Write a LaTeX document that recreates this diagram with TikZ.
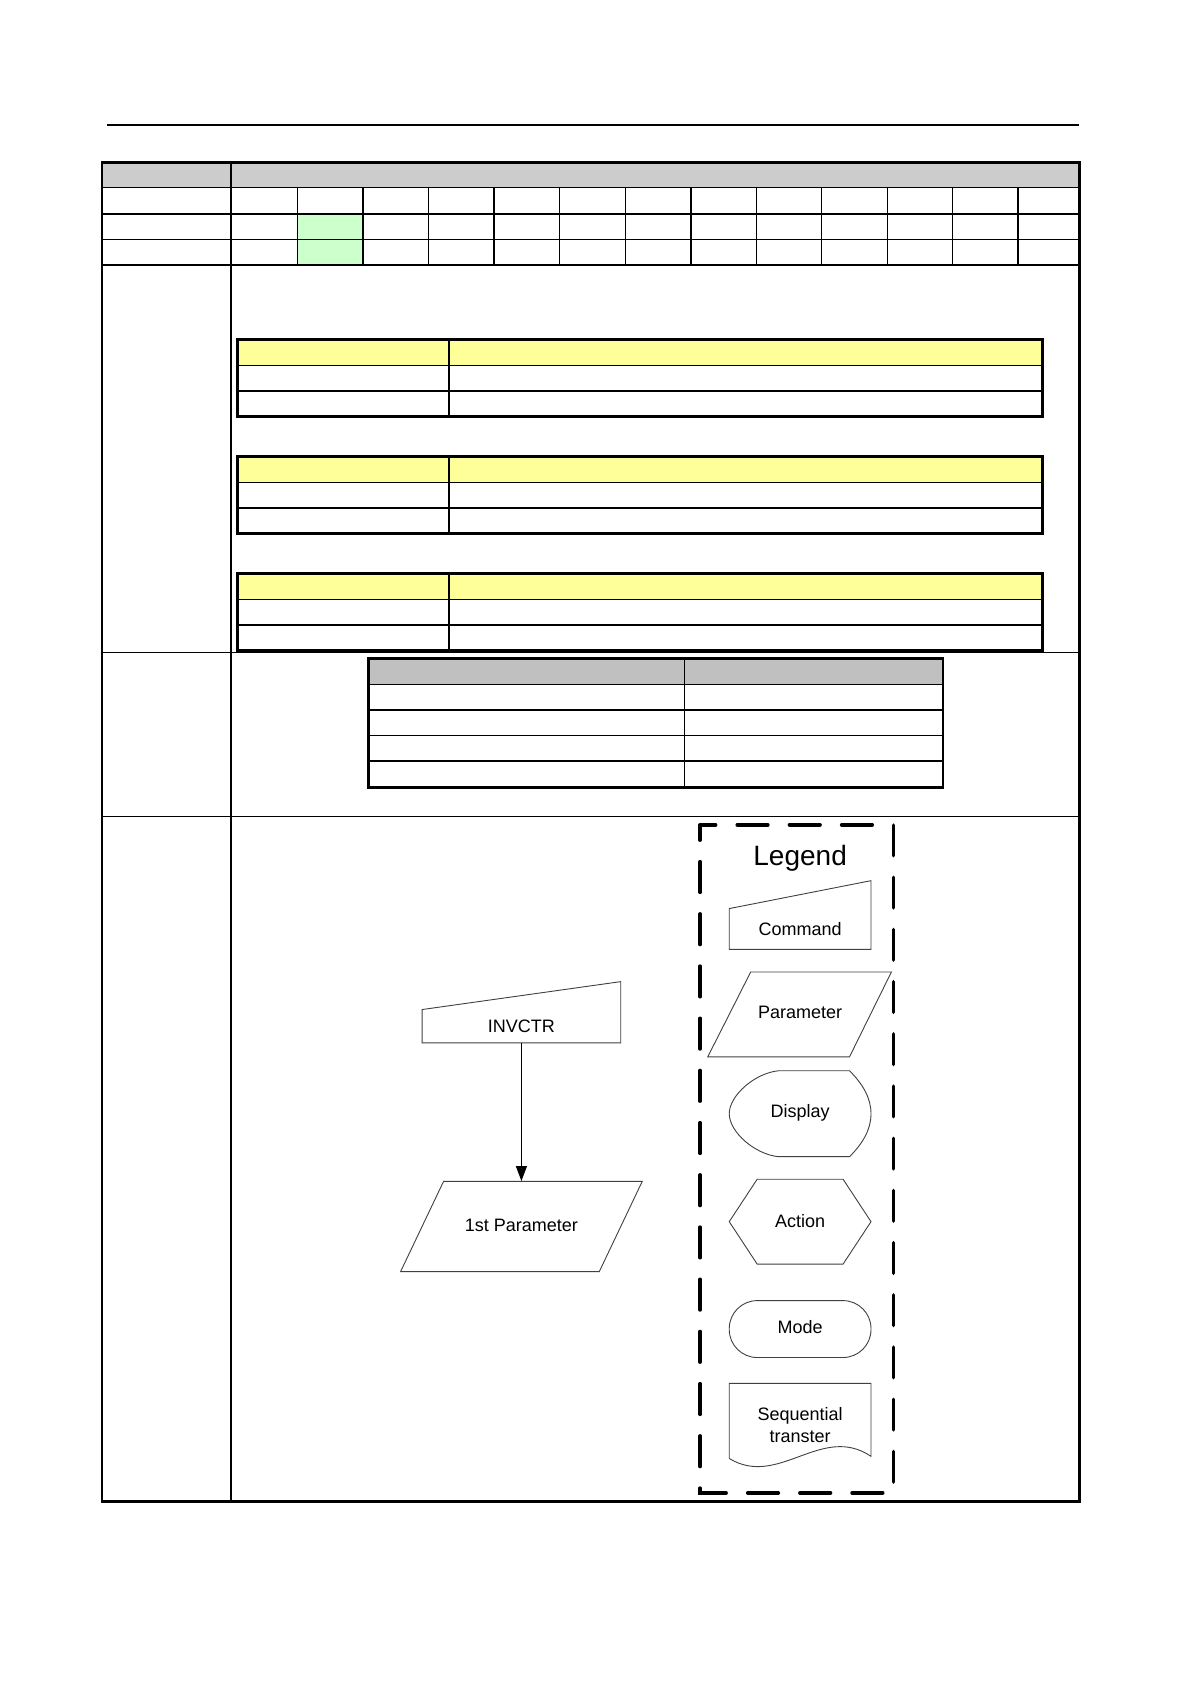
\documentclass[tikz,border=0pt]{standalone}
\usepackage{fontspec}
\setmainfont{Liberation Sans}
\usepackage{tikz}
\usetikzlibrary{arrows.meta}
\definecolor{ink}{HTML}{000000}
\definecolor{headgrey}{HTML}{CCCCCC}
\definecolor{colgrey}{HTML}{C0C0C0}
\definecolor{hilite}{HTML}{CCFFCC}
\definecolor{paleyellow}{HTML}{FFFF99}
\definecolor{outline}{HTML}{404040}
\tikzset{frameline/.style={draw=ink,line width=1.4pt},boldrule/.style={draw=ink,line width=1pt},hairline/.style={draw=ink,line width=.5pt},flowshape/.style={draw=outline,line width=.45pt,fill=white},shapetext/.style={font=\fontsize{9}{11.3}\selectfont,inner sep=0pt,align=center},legendbox/.style={draw=ink,line width=1.8pt,line cap=round,dash pattern=on 15.3pt off 10.8pt,dash phase=7.65pt},flowarrow/.style={draw=ink,line width=.6pt,-{Triangle[length=7.5pt,width=5.5pt]}}}
\begin{document}
\begin{tikzpicture}[x=0.537pt,y=-0.537pt]
\useasboundingbox (0,0) rectangle (1108,1568);
\draw[boldrule] (100,116) -- (1005,116);
\fill[headgrey] (95,151) rectangle (1005,175);
\fill[hilite] (277,199) rectangle (338,247);
\draw[hairline] (95,175) -- (1005,175) (95,223) -- (1005,223) (95,608) -- (1005,608) (95,760) -- (1005,760);
\draw[boldrule] (95,199) -- (1005,199) (95,247) -- (1005,247);
\draw[hairline] (277,175) -- (277,247) (399,175) -- (399,247) (521,175) -- (521,247) (582,175) -- (582,247) (704,175) -- (704,247) (765,175) -- (765,247) (826,175) -- (826,247) (887,175) -- (887,247);
\draw[boldrule] (338,175) -- (338,247) (460,175) -- (460,247) (643,175) -- (643,247) (948,175) -- (948,247);
\draw[boldrule] (215,151) -- (215,1398);
\fill[paleyellow] (221,316) rectangle (971,340);
\draw[hairline] (221,340) -- (971,340);
\draw[boldrule] (221,364) -- (971,364) (418,316) -- (418,388);
\draw[frameline] (221,316) rectangle (971,388);
\fill[paleyellow] (221,425) rectangle (971,449);
\draw[hairline] (221,449) -- (971,449);
\draw[boldrule] (221,473) -- (971,473) (418,425) -- (418,497);
\draw[frameline] (221,425) rectangle (971,497);
\fill[paleyellow] (221,534) rectangle (971,558);
\draw[hairline] (221,558) -- (971,558);
\draw[boldrule] (221,582) -- (971,582) (418,534) -- (418,606);
\draw[frameline] (221,534) rectangle (971,606);
\fill[colgrey] (343,613) rectangle (878,637);
\draw[hairline] (343,637) -- (878,637) (343,685) -- (878,685) (637,613) -- (637,733);
\draw[boldrule] (343,661) -- (878,661) (343,709) -- (878,709);
\draw[frameline] (343,613) rectangle (878,733);
\draw[frameline] (95,151) rectangle (1005,1398);
\draw[legendbox] (652,768) -- (652,1390) -- (832,1390) -- (832,768) -- cycle;
\node[font=\fontsize{14}{16}\selectfont] (legendtitle) at (745,799) {Legend};
\draw[flowshape] (679,846) -- (811,820) -- (811,884) -- (679,884) -- cycle;
\node[shapetext] (cmdkey) at (745,865) {Command};
\draw[flowshape] (699,905) -- (830,905) -- (791,984) -- (659,984) -- cycle;
\node[shapetext] (parkey) at (745,943) {Parameter};
\draw[flowshape] (725,997) -- (791,997) .. controls (803,1009) and (811,1022) .. (811,1037) .. controls (811,1052) and (803,1065) .. (791,1077) -- (725,1077) .. controls (703,1075) and (679,1054) .. (679,1037) .. controls (679,1020) and (703,999) .. (725,997) -- cycle;
\node[shapetext] (dispkey) at (745,1036) {Display};
\draw[flowshape] (705,1098) -- (785,1098) -- (811,1137.5) -- (785,1177) -- (705,1177) -- (679,1137.5) -- cycle;
\node[shapetext] (actkey) at (745,1137) {Action};
\draw[flowshape,rounded corners=14pt] (679,1211) rectangle (811,1264);
\node[shapetext] (modekey) at (745,1236) {Mode};
\draw[flowshape] (679,1358) -- (679,1288) -- (811,1288) -- (811,1356) .. controls (765,1325) and (725,1386) .. (679,1358);
\node[shapetext] (seqkey) at (745,1327) {Sequential\\transter};
\draw[flowshape] (393,940) -- (578,914) -- (578,971) -- (393,971) -- cycle;
\node[shapetext,minimum height=16.1pt] (invctr) at (485.5,956) {INVCTR};
\draw[flowshape] (413,1100) -- (598,1100) -- (558,1184) -- (373,1184) -- cycle;
\node[shapetext,minimum height=44pt] (firstpar) at (485.5,1141) {1st Parameter};
\draw[flowarrow] (invctr) -- (firstpar);
\end{tikzpicture}
\end{document}
